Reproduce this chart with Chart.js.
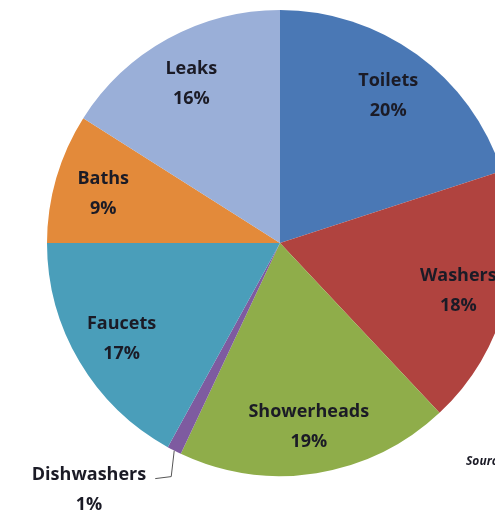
<!DOCTYPE html>
<html>
<head>
<meta charset="utf-8">
<script src="https://cdn.jsdelivr.net/npm/chart.js@4/dist/chart.umd.min.js"></script>
<style>
    html, body { margin: 0; padding: 0; background: #fff; overflow: hidden; }
    #wrap { position: absolute; left: 0; top: 0; width: 560px; height: 512px; }
</style>
</head>
<body>
<div id="wrap"><canvas id="grafica" width="560" height="512"></canvas></div>
<script>
/* ===== datos ===== */
const categorias = ["Toilets", "Washers", "Showerheads", "Dishwashers", "Faucets", "Baths", "Leaks"];
const porcentajes = [20, 18, 19, 1, 17, 9, 16];
const colores = ["#4A78B5", "#B0433F", "#8FAD4A", "#7E5BA0", "#4A9EBA", "#E38A3A", "#9AAFD8"];
const fuente = "Source:";

const FONT = "'Open Sans'";

// Etiquetas dentro de cada porción
const etiquetas = {
    id: "etiquetas",
    afterDatasetsDraw(chart) {
        const ctx = chart.ctx;
        const arcs = chart.getDatasetMeta(0).data;
        ctx.save();
        ctx.fillStyle = "#1b1b26";
        ctx.font = `bold 18px ${FONT}`;
        ctx.textAlign = "center";
        ctx.textBaseline = "middle";

        arcs.forEach((a, i) => {
            const mid = (a.startAngle + a.endAngle) / 2;
            let x, y;
            if (categorias[i] === "Dishwashers") {
                // etiqueta fuera con línea guía
                const px = a.x + Math.cos(mid) * a.outerRadius;
                const py = a.y + Math.sin(mid) * a.outerRadius;
                ctx.strokeStyle = "#555";
                ctx.lineWidth = 1;
                ctx.beginPath();
                ctx.moveTo(px, py);
                ctx.lineTo(px - 3, py + 26);
                ctx.lineTo(px - 19, py + 28);
                ctx.stroke();
                x = 89; y = 475;
            } else {
                x = a.x + Math.cos(mid) * a.outerRadius * 0.79;
                y = a.y + Math.sin(mid) * a.outerRadius * 0.79 - 13;
            }
            ctx.fillText(categorias[i], x, y);
            ctx.fillText(porcentajes[i] + "%", x, y + 30);
        });

        ctx.font = `italic bold 12px ${FONT}`;
        ctx.textAlign = "left";
        ctx.fillText(fuente, 466, 462);
        ctx.restore();
    }
};

new Chart(document.getElementById("grafica"), {
    type: "pie",
    data: {
        labels: categorias,
        datasets: [{
            data: porcentajes,
            backgroundColor: colores,
            borderWidth: 0
        }]
    },
    options: {
        responsive: false,
        animation: false,
        layout: { padding: { top: 10, bottom: 36, left: 47, right: 47 } },
        plugins: {
            legend: { display: false },
            tooltip: { enabled: false }
        }
    },
    plugins: [etiquetas]
});
</script>
</body>
</html>
